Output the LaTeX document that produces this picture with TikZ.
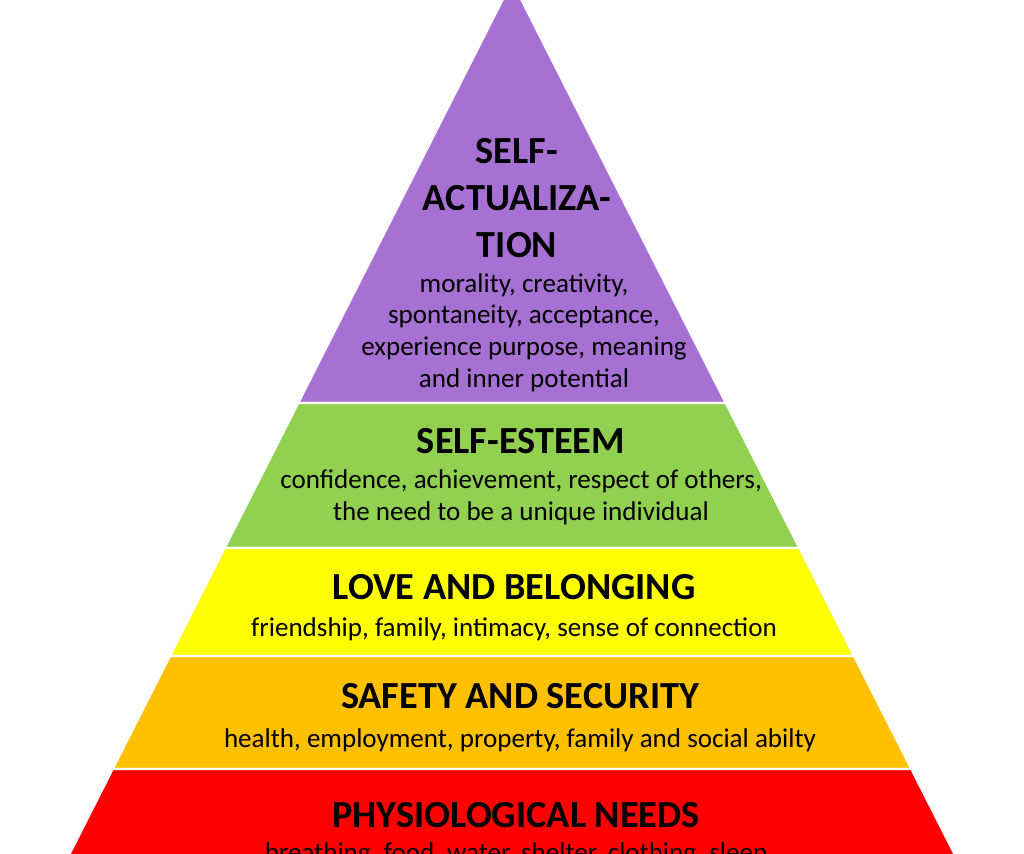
\documentclass[tikz,border=0pt]{standalone}
\usepackage{fontspec}
\setmainfont{Carlito}
\usepackage{tikz}
\usetikzlibrary{positioning}

\definecolor{needpurple}{RGB}{167,113,212}
\definecolor{needgreen}{RGB}{146,208,80}
\definecolor{needyellow}{RGB}{255,255,0}
\definecolor{needorange}{RGB}{255,192,0}
\definecolor{needred}{RGB}{255,0,0}

\begin{document}
\begin{tikzpicture}[
    x=0.02cm, y=-0.02cm,
    band/.style={draw=white, line width=1.4pt, line join=round},
    toptitle/.style={anchor=base, align=center, inner sep=0pt, font=\bfseries\fontsize{21.8}{26.5}\selectfont},
    heading/.style={anchor=base, inner sep=0pt, font=\bfseries\fontsize{21.8}{26}\selectfont},
    details/.style={anchor=base, align=center, inner sep=0pt, font=\fontsize{15.4}{18}\selectfont}
  ]
    \useasboundingbox (0,0) rectangle (1024,853);
    \clip (0,0) rectangle (1024,853);

    % Levels of the pyramid
    \fill[needpurple, band] (512,-19) -- (725.9,403) -- (298.1,403) -- cycle;
    \fill[needgreen, band] (298.1,403) -- (725.9,403) -- (799.5,548) -- (224.5,548) -- cycle;
    \fill[needyellow, band] (224.5,548) -- (799.5,548) -- (854.2,656) -- (169.8,656) -- cycle;
    \fill[needorange, band] (169.8,656) -- (854.2,656) -- (911.5,769) -- (112.5,769) -- cycle;
    \fill[needred, band] (112.5,769) -- (911.5,769) -- (977.9,900) -- (46.1,900) -- cycle;

    % Self-actualization (base = last line)
    \node[toptitle] (selftitle) at (517,257) {SELF-\\ACTUALIZA-\\TION};
    \node[details] (selftext) at (524,387) {morality, creativity,\\spontaneity, acceptance,\\experience purpose, meaning\\and inner potential};

    % Self-esteem
    \node[heading] (esteemtitle) at (521,453) {SELF-ESTEEM};
    \node[details] (esteemtext) at (521,520) {confidence, achievement, respect of others,\\the need to be a unique individual};

    % Love and belonging
    \node[heading] (lovetitle) at (514,599) {LOVE AND BELONGING};
    \node[details] (lovetext) at (514,636) {friendship, family, intimacy, sense of connection};

    % Safety and security
    \node[heading] (safetytitle) at (520,708) {SAFETY AND SECURITY};
    \node[details] (safetytext) at (520,747) {health, employment, property, family and social abilty};

    % Physiological needs
    \node[heading] (bodytitle) at (516,827) {PHYSIOLOGICAL NEEDS};
    \node[details] (bodytext) at (516,861) {breathing, food, water, shelter, clothing, sleep};
  \end{tikzpicture}
\end{document}
